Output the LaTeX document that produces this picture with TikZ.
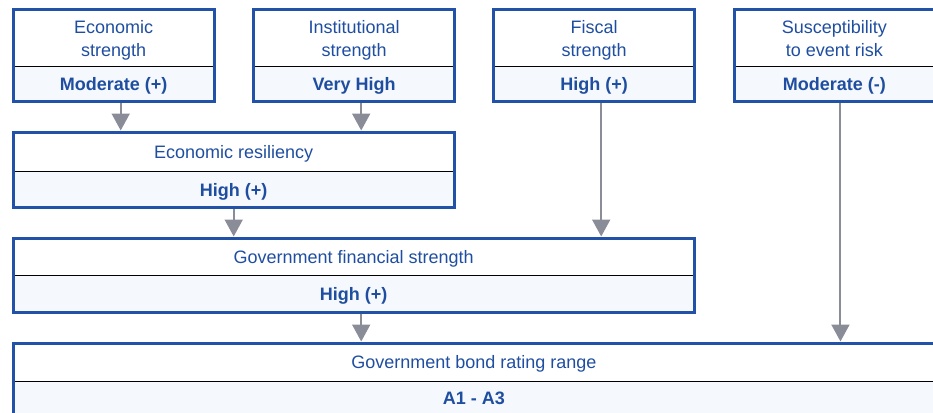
\documentclass[tikz,border=0pt]{standalone}
\usepackage{fontspec}
\setmainfont{Liberation Sans}
\usetikzlibrary{arrows.meta}

\definecolor{rateblue}{RGB}{33,82,168}
\definecolor{ratetext}{RGB}{31,78,160}
\definecolor{ratefill}{RGB}{245,248,252}
\definecolor{rategray}{RGB}{138,141,152}

\begin{document}
\begin{tikzpicture}[x=1pt,y=-1pt,
  font=\fontsize{18}{23}\selectfont,
  part/.style={inner sep=0pt,text height=13pt,text depth=0pt,align=center,text=ratetext,anchor=north west},
  title/.style={part},
  twoline/.style={title,text height=36pt},
  value/.style={part,fill=ratefill,font=\fontsize{18}{23}\selectfont\bfseries},
  frame/.style={draw=rateblue,line width=3pt},
  divider/.style={draw=black,line width=1pt},
  flow/.style={draw=rategray,line width=2pt,-{Triangle[width=18pt,length=17pt]},shorten <=1.5pt,shorten >=1.5pt}]
\useasboundingbox (0,0) rectangle (933,412);
\clip (0,0) rectangle (933,412);

% top row
\node[twoline,minimum width=201pt,minimum height=56pt] (econ-t) at (13,10) {Economic\\strength};
\node[value,minimum width=201pt,minimum height=35pt] (econ-v) at (econ-t.south west) {Moderate (+)};
\node[twoline,minimum width=201pt,minimum height=56pt] (inst-t) at (253.5,10) {Institutional\\strength};
\node[value,minimum width=201pt,minimum height=35pt] (inst-v) at (inst-t.south west) {Very High};
\node[twoline,minimum width=201pt,minimum height=56pt] (fisc-t) at (493.5,10) {Fiscal\\strength};
\node[value,minimum width=201pt,minimum height=35pt] (fisc-v) at (fisc-t.south west) {High (+)};
\node[twoline,minimum width=200.5pt,minimum height=56pt] (risk-t) at (734,10) {Susceptibility\\to event risk};
\node[value,minimum width=200.5pt,minimum height=35pt] (risk-v) at (risk-t.south west) {Moderate (-)};

% combined scores
\node[title,minimum width=441pt,minimum height=39pt] (resil-t) at (13,132) {Economic resiliency};
\node[value,minimum width=441pt,minimum height=36pt] (resil-v) at (resil-t.south west) {High (+)};
\node[title,minimum width=681pt,minimum height=37pt] (gfs-t) at (13,238) {Government financial strength};
\node[value,minimum width=681pt,minimum height=37pt] (gfs-v) at (gfs-t.south west) {High (+)};
\node[title,minimum width=921.5pt,minimum height=38pt] (rating-t) at (13,343) {Government bond rating range};
\node[value,minimum width=921.5pt,minimum height=33.5pt] (rating-v) at (rating-t.south west) {A1 - A3};

% frames and dividers
\foreach \b in {econ,inst,fisc,risk,resil,gfs,rating}{
  \draw[divider] (\b-v.north west) -- (\b-v.north east);
  \draw[frame] (\b-t.north west) rectangle (\b-v.south east);
}

% arrows
\draw[flow] ([xshift=7pt]econ-v.south) -- ([xshift=7pt]econ-v.south |- resil-t.north);
\draw[flow] ([xshift=7pt]inst-v.south) -- ([xshift=7pt]inst-v.south |- resil-t.north);
\draw[flow] ([xshift=7pt]fisc-v.south) -- ([xshift=7pt]fisc-v.south |- gfs-t.north);
\draw[flow] ([xshift=6pt]risk-v.south) -- ([xshift=6pt]risk-v.south |- rating-t.north);
\draw[flow] (resil-v.south) -- (resil-v.south |- gfs-t.north);
\draw[flow] ([xshift=7.5pt]gfs-v.south) -- ([xshift=7.5pt]gfs-v.south |- rating-t.north);
\end{tikzpicture}
\end{document}
